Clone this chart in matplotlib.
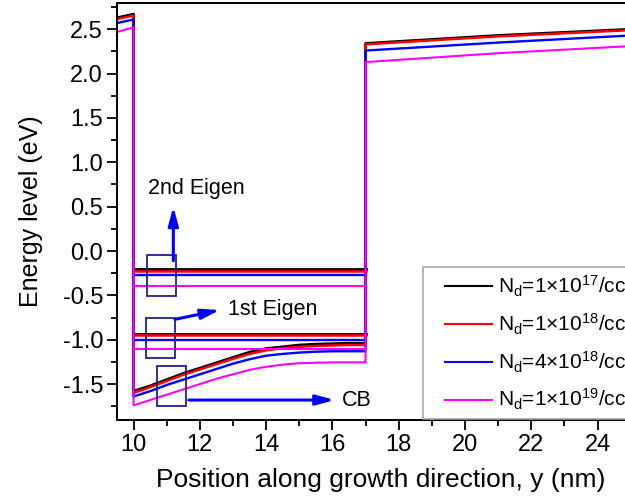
import matplotlib
matplotlib.use("Agg")
import matplotlib.pyplot as plt
import numpy as np
from matplotlib.patches import Rectangle
from matplotlib.legend_handler import HandlerLine2D

plt.rcParams['font.family'] = ['Liberation Sans', 'DejaVu Sans']
plt.rcParams['mathtext.fontset'] = 'custom'
plt.rcParams['mathtext.rm'] = 'Liberation Sans'
plt.rcParams['mathtext.it'] = 'Liberation Sans'

# Doping levels and their colours
labels = [r'N$_\mathrm{d}$=1×10$^{17}$/cc',
          r'N$_\mathrm{d}$=1×10$^{18}$/cc',
          r'N$_\mathrm{d}$=4×10$^{18}$/cc',
          r'N$_\mathrm{d}$=1×10$^{19}$/cc']
colors = ['black', 'red', 'blue', 'magenta']
widths = [2.0, 1.8, 1.7, 1.5]

# Left barrier (y < 10 nm)
left_x = [9.5, 10.0]
left_cb = [[2.63, 2.67],
           [2.615, 2.655],
           [2.57, 2.61],
           [2.47, 2.52]]

# Conduction band inside the well (10 - 17 nm)
well_x = [10.0, 10.5, 11.0, 11.5, 12.0, 12.5, 13.0, 13.5, 14.0, 14.5, 15.0, 15.5, 16.0, 16.5, 17.0]
well_cb = [
    [-1.58, -1.52, -1.45, -1.38, -1.32, -1.26, -1.20, -1.14, -1.10, -1.08, -1.06, -1.05, -1.045, -1.04, -1.04],
    [-1.60, -1.535, -1.465, -1.395, -1.335, -1.275, -1.215, -1.16, -1.12, -1.095, -1.08, -1.07, -1.065, -1.06, -1.06],
    [-1.64, -1.58, -1.51, -1.45, -1.39, -1.33, -1.27, -1.22, -1.18, -1.16, -1.145, -1.135, -1.13, -1.13, -1.13],
    [-1.74, -1.68, -1.62, -1.56, -1.50, -1.44, -1.39, -1.34, -1.305, -1.28, -1.265, -1.26, -1.255, -1.255, -1.255],
]

# Right barrier (y > 17 nm)
right_x = [17.0, 21.0, 25.0]
right_cb = [[2.34, 2.43, 2.50],
            [2.33, 2.42, 2.49],
            [2.26, 2.35, 2.43],
            [2.13, 2.23, 2.31]]

# Eigen energies in the well
eigen1 = [-0.93, -0.947, -1.00, -1.108]
eigen2 = [-0.203, -0.222, -0.274, -0.395]
eigen_x = [10.0, 17.0]

fig = plt.figure(figsize=(6.25, 4.98), dpi=100)
ax = fig.add_axes([117 / 625, 1 - 420 / 498, (630.7 - 117) / 625, (420 - 3) / 498])

for i in range(4):
    xs = list(left_x) + list(well_x) + list(right_x)
    ys = list(left_cb[i]) + list(well_cb[i]) + list(right_cb[i])
    ax.plot(xs, ys, color=colors[i], lw=widths[i], label=labels[i])
    ax.plot(eigen_x, [eigen1[i]] * 2, color=colors[i], lw=widths[i])
    ax.plot(eigen_x, [eigen2[i]] * 2, color=colors[i], lw=widths[i])

ax.set_xlim(9.5, 25)
ax.set_ylim(-1.905, 2.796)
ax.set_xticks(np.arange(10, 25, 2))
ax.set_xticks(np.arange(10, 25, 1), minor=True)
ax.set_yticks(np.arange(-1.5, 2.51, 0.5))
ax.set_yticks(np.arange(-1.75, 2.76, 0.25), minor=True)
ax.set_yticklabels([f'{v:.1f}' for v in np.arange(-1.5, 2.51, 0.5)])
ax.tick_params(which='both', direction='out', width=1.3, labelsize=17, top=False, right=False)
ax.tick_params(which='major', length=7, pad=3)
ax.tick_params(which='minor', length=4)
for s in ['left', 'bottom', 'top']:
    ax.spines[s].set_linewidth(1.4)
ax.spines['right'].set_visible(False)

ax.set_xlabel('Position along growth direction, y (nm)', fontsize=19, labelpad=9, x=0.514)
ax.set_ylabel('Energy level (eV)', fontsize=18, labelpad=14)

# Annotation boxes and arrows
box_c = '#1f1f8f'
arr_c = '#0000ff'
boxes = [(10.42, -0.51, 0.86, 0.46),
         (10.37, -1.206, 0.88, 0.454),
         (10.72, -1.744, 0.86, 0.451)]
for (bx, by, bw, bh) in boxes:
    ax.add_patch(Rectangle((bx, by), bw, bh, fill=False, ec=box_c, lw=1.3, zorder=5))

arrows = [((11.2, -0.11), (11.2, 0.50)),
          ((11.25, -0.77), (12.61, -0.665)),
          ((11.67, -1.68), (16.07, -1.68))]
for start, end in arrows:
    ax.annotate('', xy=end, xytext=start,
                arrowprops=dict(arrowstyle='-|>,head_length=1.1,head_width=0.3',
                                color=arr_c, lw=2.2, shrinkA=0, shrinkB=0), zorder=6)

ax.text(10.45, 0.71, '2nd Eigen', fontsize=15.5, va='center', ha='left')
ax.text(12.86, -0.654, '1st Eigen', fontsize=15.5, va='center', ha='left')
ax.text(16.28, -1.68, 'CB', fontsize=15.5, va='center', ha='left')

leg = ax.legend(loc='upper left', bbox_to_anchor=(423 / 625, 1 - 267 / 498),
                bbox_transform=fig.transFigure, fontsize=15, frameon=True,
                fancybox=False, handlelength=3.7, handletextpad=-0.43,
                labelspacing=0.6, borderpad=0.34, borderaxespad=0, numpoints=2,
                handler_map={matplotlib.lines.Line2D: HandlerLine2D(marker_pad=0.72)})
leg.get_frame().set_edgecolor('#a0a0a0')
leg.get_frame().set_linewidth(1.4)
for ln in leg.get_lines():
    ln.set_linewidth(1.5)

fig.savefig('out.png', dpi=100)
